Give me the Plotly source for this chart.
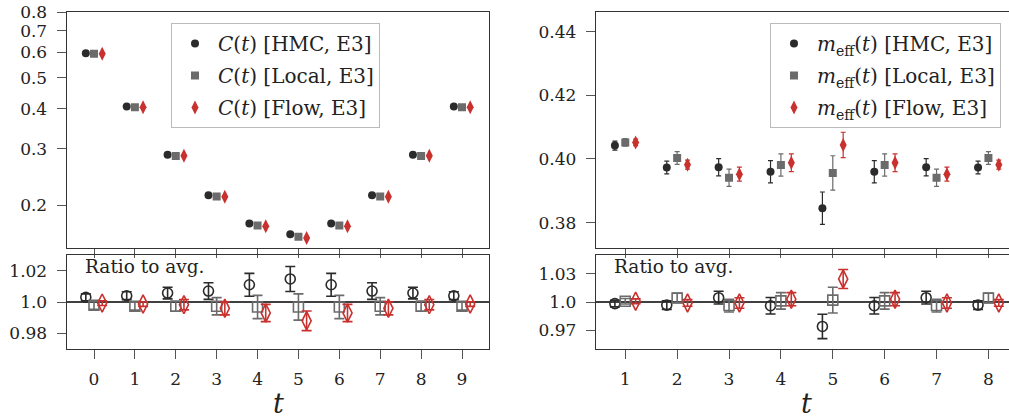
import plotly.graph_objects as go

# ---------------- data ----------------
t_left = [0, 1, 2, 3, 4, 5, 6, 7, 8, 9]
c_hmc = [0.596, 0.4065, 0.2876, 0.2150, 0.1754, 0.1624, 0.1754, 0.2150, 0.2876, 0.4065]
c_hmc_err = [0.0012, 0.0012, 0.0011, 0.0011, 0.0013, 0.0013, 0.0013, 0.0011, 0.0011, 0.0012]
c_local = [0.593, 0.4040, 0.2851, 0.2129, 0.1729, 0.1595, 0.1729, 0.2129, 0.2851, 0.4040]
c_local_err = [0.0012, 0.0008, 0.0009, 0.0012, 0.0013, 0.0013, 0.0013, 0.0012, 0.0009, 0.0008]
c_flow = [0.5935, 0.4045, 0.2854, 0.2127, 0.1722, 0.1581, 0.1722, 0.2127, 0.2854, 0.4045]
c_flow_err = [0.0009, 0.0006, 0.0009, 0.0009, 0.0009, 0.0010, 0.0009, 0.0009, 0.0009, 0.0006]

r_hmc = [1.003, 1.004, 1.0057, 1.007, 1.011, 1.0147, 1.011, 1.007, 1.0057, 1.004]
r_hmc_err = [0.0022, 0.0025, 0.0037, 0.0053, 0.0073, 0.0080, 0.0073, 0.0053, 0.0037, 0.0025]
r_local = [0.9979, 0.9973, 0.9973, 0.9973, 0.9968, 0.9968, 0.9968, 0.9973, 0.9973, 0.9973]
r_local_err = [0.0025, 0.0025, 0.0032, 0.0055, 0.0074, 0.0084, 0.0074, 0.0055, 0.0032, 0.0025]
r_flow = [0.9993, 0.9987, 0.9983, 0.996, 0.993, 0.988, 0.993, 0.996, 0.9983, 0.9987]
r_flow_err = [0.0015, 0.0015, 0.0033, 0.0042, 0.0055, 0.0063, 0.0055, 0.0042, 0.0033, 0.0015]

t_right = [1, 2, 3, 4, 5, 6, 7, 8]
m_hmc = [0.4042, 0.3973, 0.3974, 0.3960, 0.3845, 0.3960, 0.3974, 0.3973]
m_hmc_err = [0.0014, 0.0020, 0.0027, 0.0035, 0.0051, 0.0035, 0.0027, 0.0020]
m_local = [0.4052, 0.4003, 0.3941, 0.3981, 0.3956, 0.3981, 0.3941, 0.4003]
m_local_err = [0.0012, 0.0020, 0.0027, 0.0035, 0.0054, 0.0035, 0.0027, 0.0020]
m_flow = [0.4052, 0.3982, 0.3952, 0.3988, 0.4044, 0.3988, 0.3952, 0.3982]
m_flow_err = [0.0010, 0.0014, 0.0022, 0.0028, 0.0040, 0.0028, 0.0022, 0.0014]

r2_hmc = [0.9983, 0.9967, 1.0046, 0.9960, 0.9740, 0.9960, 1.0046, 0.9967]
r2_hmc_err = [0.0035, 0.0045, 0.0068, 0.0088, 0.0130, 0.0088, 0.0068, 0.0045]
r2_local = [1.0008, 1.0043, 0.9962, 1.0012, 1.0020, 1.0012, 0.9962, 1.0043]
r2_local_err = [0.0030, 0.0050, 0.0068, 0.0088, 0.0137, 0.0088, 0.0068, 0.0050]
r2_flow = [1.0008, 0.9990, 0.9990, 1.0030, 1.0245, 1.0030, 0.9990, 0.9990]
r2_flow_err = [0.0025, 0.0035, 0.0056, 0.0070, 0.0101, 0.0070, 0.0056, 0.0035]

left_ticks = [0.2, 0.3, 0.4, 0.5, 0.6, 0.7, 0.8]
left_ticktext = ["0.2", "0.3", "0.4", "0.5", "0.6", "0.7", "0.8"]
right_ticks = [0.38, 0.40, 0.42, 0.44]
right_ticktext = ["0.38", "0.40", "0.42", "0.44"]
ratio_left_ticks = [0.98, 1.0, 1.02]
ratio_left_text = ["0.98", "1.0", "1.02"]
ratio_right_ticks = [0.97, 1.0, 1.03]
ratio_right_text = ["0.97", "1.0", "1.03"]
REF = 1.0

series = ["HMC", "Local", "Flow"]

# ---------------- style ----------------
COL = {"HMC": "#2b2b2b", "Local": "#6b6b6b", "Flow": "#c8312e"}
OFF = {"HMC": -0.2, "Local": 0.0, "Flow": 0.2}
SYM = {"HMC": "circle", "Local": "square", "Flow": "diamond-tall"}
SZ = {"HMC": 8, "Local": 8, "Flow": 10}
SZ_OPEN = {"HMC": 10, "Local": 10, "Flow": 13}
FONT = "DejaVu Serif"
TXT = "#222222"

# the page body margin is removed below, so figure pixel = screen pixel;
# the right panel continues past the 1009px window, as in the reference
W, H = 1024, 418


def px_x(sx):
    return sx / W


def px_y(sy):
    return 1 - sy / H


fig = go.Figure()

top_left = {"HMC": (c_hmc, c_hmc_err), "Local": (c_local, c_local_err), "Flow": (c_flow, c_flow_err)}
bot_left = {"HMC": (r_hmc, r_hmc_err), "Local": (r_local, r_local_err), "Flow": (r_flow, r_flow_err)}
top_right = {"HMC": (m_hmc, m_hmc_err), "Local": (m_local, m_local_err), "Flow": (m_flow, m_flow_err)}
bot_right = {"HMC": (r2_hmc, r2_hmc_err), "Local": (r2_local, r2_local_err), "Flow": (r2_flow, r2_flow_err)}

for i, s in enumerate(series):
    vals, errs = top_left[s]
    fig.add_trace(go.Scatter(
        x=[t + OFF[s] for t in t_left], y=vals, mode="markers",
        marker=dict(symbol=SYM[s], size=SZ[s], color=COL[s]),
        error_y=dict(type="data", array=errs, color=COL[s], thickness=1.2, width=2.5),
        name=f"<i>C</i>(<i>t</i>) [{s}, E3]", xaxis="x", yaxis="y",
        legend="legend", legendgroup=f"L{i}"))
    vals, errs = bot_left[s]
    fig.add_trace(go.Scatter(
        x=[t + OFF[s] for t in t_left], y=vals, mode="markers",
        marker=dict(symbol=SYM[s] + "-open", size=SZ_OPEN[s], color=COL[s], line=dict(width=1.6, color=COL[s])),
        error_y=dict(type="data", array=errs, color=COL[s], thickness=1.6, width=5),
        showlegend=False, xaxis="x2", yaxis="y2"))
    vals, errs = top_right[s]
    fig.add_trace(go.Scatter(
        x=[t + OFF[s] for t in t_right], y=vals, mode="markers",
        marker=dict(symbol=SYM[s], size=SZ[s], color=COL[s]),
        error_y=dict(type="data", array=errs, color=COL[s], thickness=1.2, width=2.5),
        name=f"<i>m</i><sub>eff</sub>(<i>t</i>) [{s}, E3]", xaxis="x3", yaxis="y3",
        legend="legend2", legendgroup=f"R{i}"))
    vals, errs = bot_right[s]
    fig.add_trace(go.Scatter(
        x=[t + OFF[s] for t in t_right], y=vals, mode="markers",
        marker=dict(symbol=SYM[s] + "-open", size=SZ_OPEN[s], color=COL[s], line=dict(width=1.6, color=COL[s])),
        error_y=dict(type="data", array=errs, color=COL[s], thickness=1.6, width=5),
        showlegend=False, xaxis="x4", yaxis="y4"))

# geometry (screen pixels of the reference -> paper)
xl0, xl1 = px_x(66.6), px_x(489.4)
xr0, xr1 = px_x(595.7), px_x(1018.0)
yt0, yt1 = px_y(248), px_y(12)
yb0, yb1 = px_y(349), px_y(255)

LINE = "#333333"
TICKC = "#555555"
tickfont = dict(family=FONT, size=17, color=TXT)


def xax(domain, rng, anchor, labels, vals):
    return dict(domain=domain, range=rng, anchor=anchor, showline=True, linecolor=LINE, linewidth=1,
                mirror=True, ticks="outside", ticklen=9, tickcolor=TICKC, tickwidth=1,
                tickvals=vals, ticktext=[str(v) for v in vals], showticklabels=labels,
                showgrid=False, zeroline=False, tickfont=tickfont, ticklabelstandoff=6,
                automargin=False, ticklabeloverflow="allow")


def yax(domain, rng, anchor, vals, text, log=False):
    d = dict(domain=domain, range=rng, anchor=anchor, showline=True, linecolor=LINE, linewidth=1,
             mirror=True, ticks="outside", ticklen=9, tickcolor=TICKC, tickwidth=1,
             tickvals=vals, ticktext=text, showgrid=False, zeroline=False, tickfont=tickfont,
             ticklabelstandoff=6, automargin=False, ticklabeloverflow="allow")
    if log:
        d["type"] = "log"
    return d


legend_style = dict(xanchor="left", yanchor="top",
                    bgcolor="rgba(255,255,255,0.85)", bordercolor="#bbbbbb", borderwidth=1,
                    font=dict(family=FONT, size=20, color=TXT), tracegroupgap=3,
                    traceorder="grouped", itemwidth=36)

fig.update_layout(
    width=W, height=H, autosize=False,
    margin=dict(l=0, r=0, t=0, b=0, pad=0),
    paper_bgcolor="white", plot_bgcolor="white",
    font=dict(family=FONT, size=17, color=TXT),
    xaxis=xax([xl0, xl1], [-0.67, 9.67], "y", False, t_left),
    yaxis=yax([yt0, yt1], [-0.832, -0.0965], "x", left_ticks, left_ticktext, log=True),
    xaxis2=xax([xl0, xl1], [-0.67, 9.67], "y2", True, t_left),
    yaxis2=yax([yb0, yb1], [0.97, 1.03], "x2", ratio_left_ticks, ratio_left_text),
    xaxis3=xax([xr0, xr1], [0.43, 8.57], "y3", False, t_right),
    yaxis3=yax([yt0, yt1], [0.372, 0.4462], "x3", right_ticks, right_ticktext),
    xaxis4=xax([xr0, xr1], [0.43, 8.57], "y4", True, t_right),
    yaxis4=yax([yb0, yb1], [0.95, 1.05], "x4", ratio_right_ticks, ratio_right_text),
    legend=dict(x=px_x(171), y=px_y(23), **legend_style),
    legend2=dict(x=px_x(770), y=px_y(23), **legend_style),
    showlegend=True,
)

# reference lines at ratio 1
for xr, yr in (("x2 domain", "y2"), ("x4 domain", "y4")):
    fig.add_shape(type="line", xref=xr, yref=yr, x0=0, x1=1, y0=REF, y1=REF,
                  line=dict(color="black", width=1.5), layer="below")

# "Ratio to avg." labels
ylab = (349 - 266.7) / (349 - 255)
fig.add_annotation(xref="x2 domain", yref="y2 domain", x=(83 - 66.6) / 422.8, y=ylab,
                   xanchor="left", yanchor="middle", text="Ratio to avg.", showarrow=False,
                   font=dict(family=FONT, size=18.5, color=TXT))
fig.add_annotation(xref="x4 domain", yref="y4 domain", x=(612 - 595.7) / 422.3, y=ylab,
                   xanchor="left", yanchor="middle", text="Ratio to avg.", showarrow=False,
                   font=dict(family=FONT, size=18.5, color=TXT))

# x titles
for xr, xc in (("x2 domain", 0.5), ("x4 domain", 0.5)):
    fig.add_annotation(xref=xr, yref="paper", x=xc, y=px_y(403), xanchor="center", yanchor="middle",
                       text="<i>t</i>", showarrow=False, font=dict(family=FONT, size=27, color=TXT))

fig.write_html(
    "out.html",
    config={"displayModeBar": False},
    post_script="document.body.style.margin='0px';document.body.style.overflow='hidden';",
)
